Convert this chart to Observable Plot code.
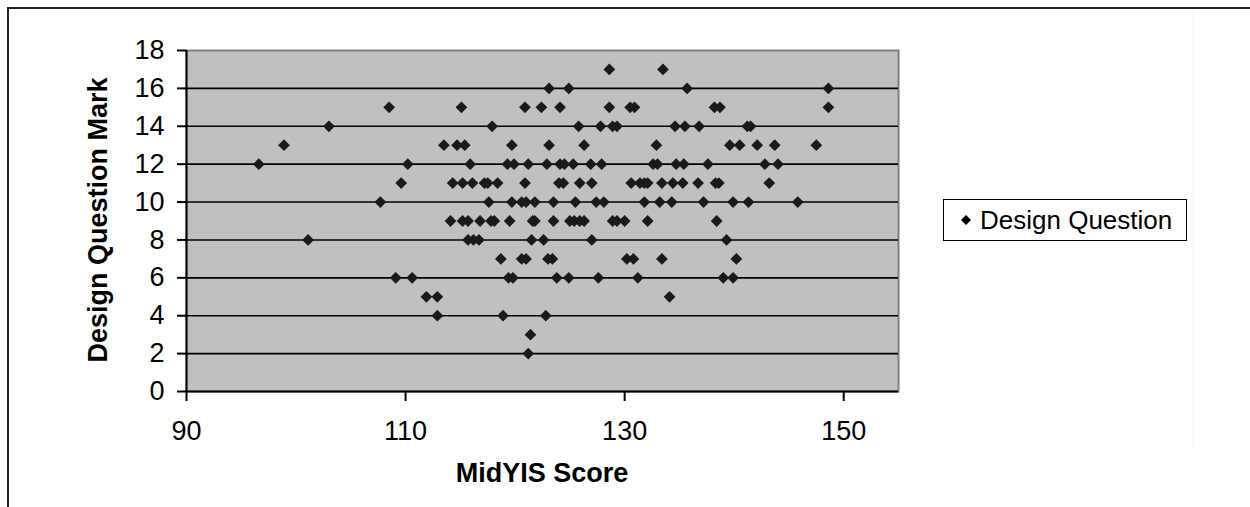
<!DOCTYPE html>
<html>
<head>
<meta charset="utf-8">
<script src="https://cdn.jsdelivr.net/npm/d3@7"></script>
<script src="https://cdn.jsdelivr.net/npm/@observablehq/plot@0.6"></script>
<style>
  html, body { margin: 0; padding: 0; background: #fff; }
  #wrap { position: relative; width: 1250px; height: 507px; overflow: hidden; font-family: "Liberation Sans", Arial, sans-serif; }
  #wrap > svg { position: absolute; left: 0; top: 0; }
  .frameTop { position: absolute; left: 8px; top: 7px; width: 1250px; height: 2px; background: #222; }
  .frameLeft { position: absolute; left: 7px; top: 7px; width: 2px; height: 520px; background: #222; }
  .faint { position: absolute; left: 1193px; top: 9px; width: 1px; height: 440px; background: #f3f3f3; }
  .ytitle { position: absolute; left: -102px; top: 205px; width: 400px; height: 30px; line-height: 30px; text-align: center; font-weight: bold; font-size: 27px; transform: rotate(-90deg); transform-origin: 200px 15px; color: #000; }
  .xtitle { position: absolute; left: 342px; top: 458px; width: 400px; height: 30px; line-height: 30px; text-align: center; font-weight: bold; font-size: 27px; color: #000; }
  .legend { position: absolute; left: 943px; top: 199px; width: 242px; height: 40px; border: 1.5px solid #000; background: #fff; box-sizing: content-box; }
  #wrap .legend svg { position: absolute; left: 17px; top: 15px; }
  .legend span { position: absolute; left: 36px; top: 4px; font-size: 26px; line-height: 32px; color: #000; white-space: nowrap; }
</style>
</head>
<body>
<div id="wrap">
  <div class="frameTop"></div>
  <div class="frameLeft"></div>
  <div class="faint"></div>
</div>
<script>
// ---- data ----
const seriesName = "Design Question";
const xTitle = "MidYIS Score";
const yTitle = "Design Question Mark";
const xTicks = [90, 110, 130, 150];
const yTicks = [0, 2, 4, 6, 8, 10, 12, 14, 16, 18];
const markLevels = [17, 16, 15, 14, 13, 12, 11, 10, 9, 8, 7, 6, 5, 4, 3, 2];
const scoresByMark = [
  [128.6, 133.5],
  [123.1, 124.9, 135.7, 148.6],
  [108.5, 115.1, 120.9, 122.4, 124.1, 128.6, 130.5, 130.9, 138.2, 138.7, 148.6],
  [103.0, 117.9, 125.8, 127.8, 128.9, 129.3, 134.6, 135.5, 136.8, 141.2, 141.5],
  [98.9, 113.5, 114.7, 115.4, 119.7, 123.1, 126.3, 132.9, 139.6, 140.5, 142.1, 143.7, 147.5],
  [96.6, 110.2, 115.9, 119.3, 119.9, 121.2, 122.9, 124.1, 124.5, 125.3, 126.9, 127.9, 132.6, 133.0, 134.7, 135.4, 137.6, 142.8, 144.0],
  [109.6, 114.3, 115.2, 116.1, 117.2, 117.5, 118.4, 120.9, 124.0, 124.4, 125.9, 127.0, 130.6, 131.4, 131.8, 132.1, 133.4, 134.4, 135.3, 136.7, 138.3, 138.6, 143.2],
  [107.7, 117.6, 119.7, 120.6, 121.0, 121.8, 123.5, 125.5, 127.4, 128.1, 131.8, 133.2, 134.3, 137.2, 139.9, 141.3, 145.8],
  [114.1, 115.2, 115.7, 116.8, 117.8, 118.1, 119.5, 121.6, 121.8, 123.5, 125.0, 125.4, 125.9, 126.3, 128.9, 129.3, 130.0, 132.1, 138.4],
  [101.1, 115.7, 116.2, 116.7, 121.5, 122.6, 127.0, 139.3],
  [118.7, 120.6, 121.0, 123.0, 123.4, 130.2, 130.8, 133.4, 140.2],
  [109.1, 110.6, 119.4, 119.8, 123.8, 124.9, 127.6, 131.2, 139.0, 139.9],
  [111.9, 112.9, 134.1],
  [112.9, 118.9, 122.8],
  [121.4],
  [121.2]
];

const points = markLevels.flatMap((m, i) => scoresByMark[i].map(s => ({score: s, mark: m})));
const gridLevels = yTicks.filter(v => v > 0 && v < 18);

const chart = Plot.plot({
  width: 1250,
  height: 507,
  marginLeft: 186,
  marginRight: 352,
  marginTop: 50,
  marginBottom: 116,
  style: {fontFamily: "'Liberation Sans', Arial, sans-serif", fontSize: "27px", color: "#000", background: "transparent", overflow: "visible"},
  x: {domain: [90, 155]},
  y: {domain: [0, 18]},
  marks: [
    Plot.frame({fill: "#c0c0c0", stroke: "#808080", strokeWidth: 2}),
    Plot.ruleY(gridLevels, {stroke: "#000", strokeWidth: 1.6}),
    Plot.ruleX([90], {stroke: "#000", strokeWidth: 2}),
    Plot.ruleY([0], {stroke: "#000", strokeWidth: 2}),
    Plot.axisY({ticks: yTicks, tickSize: 9, tickPadding: 13, label: null, strokeWidth: 2, fontSize: 27}),
    Plot.axisX({ticks: xTicks, tickSize: 10, tickPadding: 19, label: null, strokeWidth: 2, fontSize: 27}),
    Plot.dot(points, {x: "score", y: "mark", symbol: "diamond2", r: 5.3, fill: "#1a1a1a", stroke: "none"})
  ]
});

const wrap = document.getElementById("wrap");
wrap.appendChild(chart);

const yt = document.createElement("div");
yt.className = "ytitle"; yt.textContent = yTitle; wrap.appendChild(yt);
const xt = document.createElement("div");
xt.className = "xtitle"; xt.textContent = xTitle; wrap.appendChild(xt);

const lg = document.createElement("div");
lg.className = "legend";
lg.innerHTML = '<svg width="10" height="10" viewBox="0 0 10 10"><path d="M5 0 L10 5 L5 10 L0 5 Z" fill="#000"/></svg>';
const sp = document.createElement("span");
sp.textContent = seriesName;
lg.appendChild(sp);
wrap.appendChild(lg);
</script>
</body>
</html>
